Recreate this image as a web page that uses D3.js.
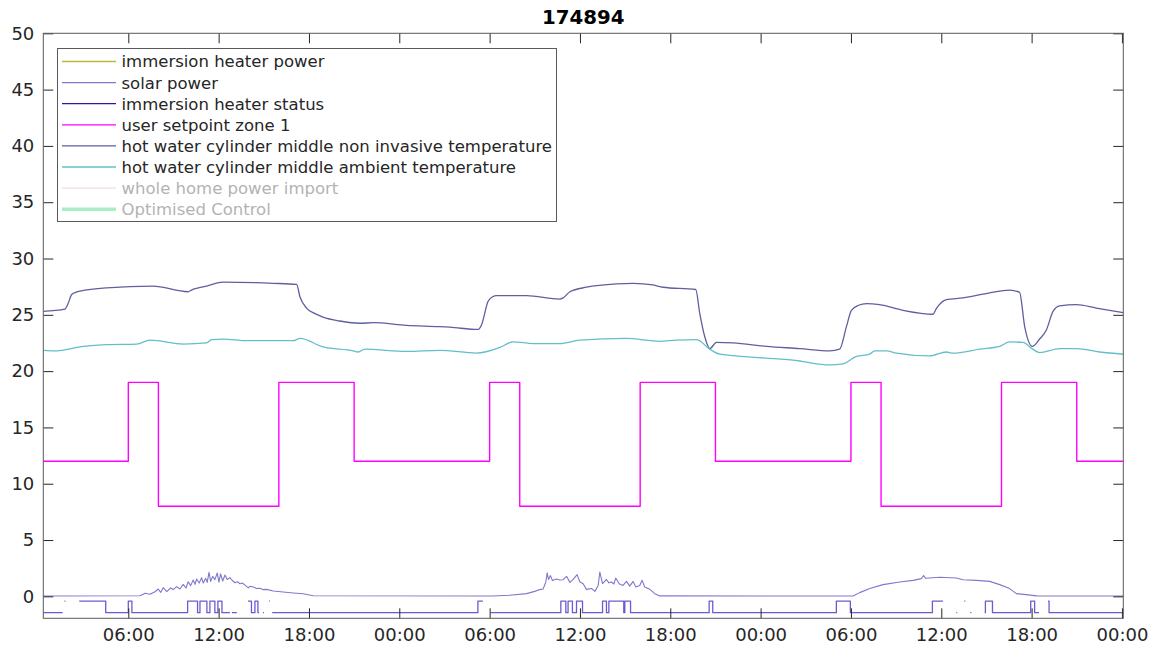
<!DOCTYPE html>
<html><head><meta charset="utf-8">
<script src="https://cdn.jsdelivr.net/npm/d3@7"></script>
<style>
html,body{margin:0;padding:0;background:#fff;}
svg{display:block;font-family:"DejaVu Sans",sans-serif;}
</style></head>
<body><svg id="chart" width="1153" height="647"></svg>
<script>
// ---------- DATA (hours since start of day 1) ----------
const title = "174894";
const seriesNames = ["immersion heater power","solar power","immersion heater status","user setpoint zone 1",
  "hot water cylinder middle non invasive temperature","hot water cylinder middle ambient temperature",
  "whole home power import","Optimised Control"];
const seriesColors = ["#bdb740","#7f78cc","#2c1a96","#ff00ff","#5f5f9f","#62bfc8","#f3d9ea","#a6f0c4"];
const legendGreyed = [false,false,false,false,false,false,true,true];
const yTicks = [0,5,10,15,20,25,30,35,40,45,50];
const xStartHour = 0.354, xEndHour = 72.09;
const yMin = -1.95, yMax = 50;

const immersionPowerT = [];
const immersionPowerV = [];

const solarT = [0.33,6.77,6.99,7.11,7.44,7.77,7.99,8.15,8.32,8.55,8.81,8.98,9.21,9.43,9.65,9.83,9.98,10.14,10.31,10.43,10.54,10.71,10.87,10.98,11.14,11.24,11.36,11.47,11.6,11.75,11.91,12.02,12.13,12.27,12.42,12.57,12.75,12.88,13.08,13.25,13.41,13.58,13.75,13.97,14.08,14.3,14.52,14.74,14.94,15.19,15.63,16.29,16.95,17.62,18.28,
  30.21,31.34,32.45,33.0,33.33,33.55,33.73,33.82,33.91,34.04,34.17,34.44,34.66,34.88,35.11,35.33,35.55,35.81,35.99,36.21,36.43,36.77,36.99,37.21,37.32,37.5,37.76,37.92,38.09,38.25,38.38,38.6,38.86,39.09,39.31,39.53,39.71,39.97,40.13,40.3,40.64,40.97,41.3,
  54.14,54.58,55.25,56.13,57.24,58.12,58.68,58.83,58.96,59.9,61.0,61.44,62.33,63.21,63.88,64.54,64.99,65.65,66.32,72.09];
const solarV = [0.03,0.05,0.18,0.27,0.18,0.41,0.65,0.35,0.77,0.42,0.74,0.6,0.86,0.65,1.06,0.74,1.3,0.95,1.45,1.06,1.54,1.18,1.66,1.18,1.6,1.24,2.13,1.33,1.77,1.48,2.07,1.27,2.0,1.36,1.9,1.5,1.66,1.45,1.21,1.3,1.12,1.18,1.0,0.75,0.9,0.83,0.7,0.71,0.6,0.62,0.47,0.38,0.3,0.23,0.05,
  0.03,0.1,0.24,0.44,0.6,0.65,1.25,2.08,1.5,1.84,1.4,1.54,1.45,1.48,1.78,1.24,1.5,1.93,1.3,1.12,0.62,0.7,0.44,0.97,2.16,1.12,1.5,1.2,1.27,1.1,1.63,1.12,0.97,1.33,0.91,1.33,0.83,0.97,1.42,0.83,0.62,0.24,0.04,
  0.03,0.33,0.69,1.04,1.27,1.42,1.57,1.85,1.6,1.69,1.63,1.48,1.42,1.33,1.04,0.69,0.24,0.15,0.04,0.03];

// status: null marks a gap in the record
const statusT = [0.333,1.64,null,1.76,1.83,null,2.74,4.5,6.0,6.24,9.94,10.6,10.76,11.22,11.42,11.75,11.95,12.22,12.75,null,12.88,13.21,null,13.95,14.18,14.41,14.61,14.68,null,14.94,15.01,null,15.34,15.4,null,
  15.56,29.22,29.55,null,30.06,34.73,35.06,35.21,35.5,35.77,36.17,37.5,37.76,37.92,38.91,38.98,39.36,44.58,44.82,53.03,53.96,59.41,60.11,null,61.0,61.06,null,61.53,61.6,null,61.93,62.0,null,
  62.88,62.93,63.4,65.94,66.2,66.49,null,67.09,67.16,72.09];
const statusV = [-1.45,-1.45,null,-0.42,-0.42,null,-0.42,-1.45,-0.42,-1.45,-0.42,-1.45,-0.42,-1.45,-0.42,-1.45,-0.42,-1.45,-1.45,null,-1.45,-1.45,null,-0.42,-1.45,-0.42,-1.45,-1.45,null,-1.45,-1.45,null,-0.42,-0.42,null,
  -1.45,-0.42,-0.42,null,-1.45,-0.42,-1.45,-0.42,-1.45,-0.42,-1.45,-0.42,-1.45,-0.42,-1.45,-0.42,-1.45,-0.42,-1.45,-0.42,-1.45,-0.42,-0.42,null,-1.45,-1.45,null,-0.42,-0.42,null,-1.45,-1.45,null,
  -1.45,-0.42,-1.45,-0.42,-1.45,-1.45,null,-0.42,-1.45,-1.45];

const setpointT = [0.333,6,8,16,21,30,32,40,45,54,56,64,69,72.09];
const setpointV = [12,19,8,19,12,19,8,19,12,19,8,19,12,12];

const nonInvT = [0.33,1.79,2.0,2.24,2.5,2.79,4.56,7.64,9.96,10.2,10.54,11.2,12.29,15.6,17.18,17.4,17.84,18.4,18.93,20.05,21.38,22.25,24.48,26.69,27.36,29.24,29.46,29.9,30.2,30.46,32.45,34.66,34.88,35.33,36.44,38.43,39.53,40.86,41.52,43.69,43.96,44.29,44.62,45.07,46.17,48.39,50.6,52.59,53.25,53.7,54.03,54.5,55.03,55.91,57.46,59.45,59.67,60.34,61.44,63.21,64.54,65.2,65.54,66.05,66.53,66.98,67.42,67.86,68.97,70.3,72.09];
const nonInvV = [25.3,25.5,26.0,26.8,27.0,27.1,27.4,27.55,27.05,27.2,27.35,27.55,27.9,27.8,27.7,26.6,25.6,25.1,24.8,24.45,24.25,24.3,24.07,23.95,23.9,23.7,24.1,26.2,26.6,26.7,26.7,26.4,26.5,27.05,27.45,27.75,27.8,27.65,27.45,27.25,25.1,23.05,22.0,22.55,22.5,22.2,22.0,21.8,21.95,23.95,25.4,25.85,26.0,25.9,25.4,25.05,25.55,26.35,26.5,26.95,27.2,27.0,23.95,22.2,22.85,23.65,25.3,25.8,25.9,25.6,25.2];

const ambientT = [0.33,1.24,3.01,4.56,6.55,7.44,9.65,11.2,11.53,12.31,13.86,16.95,17.4,18.94,20.94,21.27,21.71,24.48,26.69,29.13,30.68,31.56,32.89,34.66,35.99,39.09,41.3,42.41,43.74,44.62,45.29,48.39,50.6,51.04,52.59,53.47,54.36,55.24,55.58,56.35,57.02,59.23,60.34,60.77,62.55,63.88,64.54,65.42,66.08,66.53,67.86,68.97,70.52,72.09];
const ambientV = [21.85,21.8,22.2,22.35,22.4,22.75,22.4,22.5,22.8,22.85,22.7,22.7,22.9,22.15,21.8,21.7,21.95,21.75,21.85,21.6,22.1,22.6,22.45,22.45,22.75,22.9,22.65,22.75,22.8,21.95,21.5,21.15,20.9,20.8,20.55,20.65,21.3,21.5,21.8,21.8,21.6,21.35,21.7,21.6,21.95,22.2,22.6,22.55,21.95,21.65,22.0,22.0,21.7,21.5];

const wholeHomeT = [], wholeHomeV = [];
const optimisedT = [], optimisedV = [];

// ---------- CHART ----------
const svg = d3.select("#chart");
const base = new Date(2021, 0, 1, 0, 0, 0);
const hourToDate = h => new Date(base.getTime() + h * 3600000);
const pL = 43.3, pR = 1123.3, pT = 33.3, pB = 618.3;
const x = d3.scaleTime().domain([hourToDate(xStartHour), hourToDate(xEndHour)]).range([pL, pR]);
const y = d3.scaleLinear().domain([yMin, yMax]).range([pB, pT]);
const axisColor = "#262626";

svg.append("rect").attr("x", pL).attr("y", pT).attr("width", pR-pL).attr("height", pB-pT).attr("fill", "#fff");

function pairs(T, V) { return T.map((t, i) => (t === null || V[i] === null) ? null : {t: t, v: V[i]}); }
const seriesData = [
  {d: pairs(immersionPowerT, immersionPowerV), curve: d3.curveLinear, w: 1.2},
  {d: pairs(solarT, solarV), curve: d3.curveLinear, w: 1.1},
  {d: pairs(statusT, statusV), curve: d3.curveStepAfter, w: 1.3},
  {d: pairs(setpointT, setpointV), curve: d3.curveStepAfter, w: 1.4},
  {d: pairs(nonInvT, nonInvV), curve: d3.curveMonotoneX, w: 1.3},
  {d: pairs(ambientT, ambientV), curve: d3.curveMonotoneX, w: 1.3},
  {d: pairs(wholeHomeT, wholeHomeV), curve: d3.curveLinear, w: 1.2},
  {d: pairs(optimisedT, optimisedV), curve: d3.curveLinear, w: 4}
];
const statusColor = "#6a5cd0";
svg.append("clipPath").attr("id", "clip").append("rect").attr("x", pL).attr("y", pT).attr("width", pR-pL).attr("height", pB-pT);
const g = svg.append("g").attr("clip-path", "url(#clip)");
seriesData.forEach((s, i) => {
  if (!s.d.length) return;
  const line = d3.line().defined(p => p !== null).x(p => x(hourToDate(p.t))).y(p => y(p.v)).curve(s.curve);
  g.append("path").attr("d", line(s.d)).attr("fill", "none")
    .attr("stroke", i === 2 ? statusColor : seriesColors[i]).attr("stroke-width", s.w).attr("stroke-linejoin", "round");
});

// axes (box with inward ticks on all sides)
const tickLen = 10;
const xTickVals = x.ticks(d3.timeHour.every(6));
const fmt = d3.timeFormat("%H:%M");
const bottomAx = svg.append("g").attr("transform", `translate(0,${pB})`)
  .call(d3.axisBottom(x).tickValues(xTickVals).tickFormat(fmt).tickSizeInner(-tickLen).tickSizeOuter(0).tickPadding(9.5));
const topAx = svg.append("g").attr("transform", `translate(0,${pT})`)
  .call(d3.axisTop(x).tickValues(xTickVals).tickFormat("").tickSizeInner(-tickLen).tickSizeOuter(0));
const leftAx = svg.append("g").attr("transform", `translate(${pL},0)`)
  .call(d3.axisLeft(y).tickValues(yTicks).tickFormat(d3.format("d")).tickSizeInner(-tickLen).tickSizeOuter(0).tickPadding(9));
const rightAx = svg.append("g").attr("transform", `translate(${pR},0)`)
  .call(d3.axisRight(y).tickValues(yTicks).tickFormat("").tickSizeInner(-tickLen).tickSizeOuter(0));
[bottomAx, topAx, leftAx, rightAx].forEach(a => {
  a.select(".domain").remove();
  a.selectAll(".tick line").attr("stroke", axisColor).attr("stroke-width", 1);
  a.selectAll("text").attr("fill", "#262626").style("font-size", "18px").style("font-family", "DejaVu Sans");
});
svg.append("rect").attr("x", pL).attr("y", pT).attr("width", pR-pL).attr("height", pB-pT)
  .attr("fill", "none").attr("stroke", "#5a5a5a").attr("stroke-width", 1);

// title
svg.append("text").attr("x", (pL+pR)/2).attr("y", 24).attr("text-anchor", "middle")
  .style("font-size", "19.8px").style("font-weight", "bold").attr("fill", "#000").text(title);

// legend
const lg = svg.append("g");
lg.append("rect").attr("x", 57.5).attr("y", 48.5).attr("width", 499).attr("height", 173)
  .attr("fill", "#fff").attr("stroke", "#5a5a5a").attr("stroke-width", 1);
seriesNames.forEach((name, i) => {
  const cy = 61.5 + i * 21.1;
  lg.append("line").attr("x1", 62).attr("x2", 116).attr("y1", cy).attr("y2", cy)
    .attr("stroke", seriesColors[i]).attr("stroke-width", seriesData[i].w > 2 ? 3.5 : 1.3);
  lg.append("text").attr("x", 121.5).attr("y", cy).attr("dy", "0.36em")
    .style("font-size", "16.5px").attr("fill", legendGreyed[i] ? "#b3b3b3" : "#262626").text(name);
});
</script></body></html>
